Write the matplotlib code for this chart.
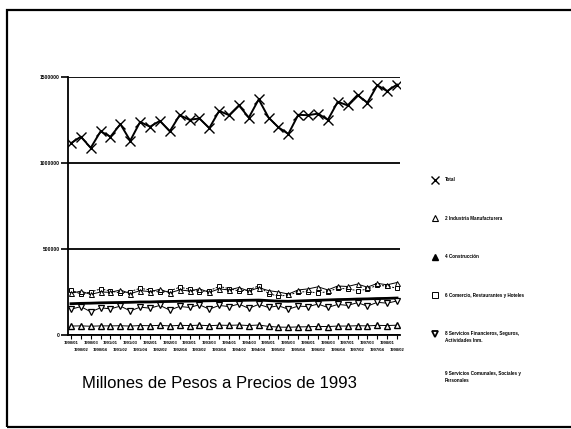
import matplotlib
matplotlib.use("Agg")
import matplotlib.pyplot as plt
from matplotlib.lines import Line2D
from matplotlib.patches import Rectangle

plt.rcParams['font.family'] = ['Liberation Sans', 'DejaVu Sans']

# Quarterly periods 1990/01 .. 1998/02
periods = [f"{y}/{q:02d}" for y in range(1990, 1999) for q in range(1, 5)][:34]

total = [1115000, 1153000, 1088000, 1184000, 1153000, 1226000, 1130000, 1239000,
         1211000, 1245000, 1184000, 1278000, 1251000, 1259000, 1203000, 1303000,
         1278000, 1335000, 1264000, 1370000, 1264000, 1207000, 1169000, 1280000,
         1278000, 1287000, 1251000, 1356000, 1335000, 1395000, 1351000, 1452000,
         1418000, 1456000]
manufactura = [242000, 255000, 236000, 250000, 248000, 262000, 240000, 258000,
               252000, 266000, 245000, 262000, 256000, 268000, 248000, 268000,
               262000, 276000, 255000, 275000, 258000, 250000, 238000, 262000,
               268000, 280000, 262000, 285000, 282000, 296000, 278000, 300000,
               292000, 305000]
comercio = [262000, 238000, 250000, 268000, 256000, 244000, 252000, 272000,
            262000, 248000, 256000, 278000, 266000, 252000, 258000, 282000,
            270000, 256000, 262000, 286000, 240000, 226000, 232000, 250000,
            252000, 244000, 252000, 272000, 268000, 258000, 266000, 290000,
            284000, 272000]
financieros = [150000, 165000, 135000, 158000, 152000, 168000, 140000, 162000,
               156000, 172000, 145000, 166000, 160000, 176000, 150000, 172000,
               165000, 180000, 155000, 178000, 160000, 170000, 150000, 168000,
               165000, 180000, 160000, 178000, 172000, 188000, 168000, 190000,
               185000, 198000]
comunales = [182000, 184000, 185000, 187000, 188000, 189000, 190000, 192000,
             192000, 194000, 195000, 196000, 197000, 198000, 199000, 200000,
             200000, 201000, 202000, 203000, 200000, 197000, 196000, 198000,
             200000, 202000, 204000, 206000, 207000, 209000, 210000, 212000,
             213000, 215000]
construccion = [52000, 53000, 51000, 53000, 53000, 54000, 52000, 55000,
                54000, 56000, 53000, 56000, 55000, 57000, 54000, 57000,
                56000, 58000, 55000, 58000, 50000, 46000, 45000, 47000,
                48000, 50000, 49000, 52000, 52000, 54000, 53000, 56000,
                55000, 57000]

yticks = [0, 500000, 1000000, 1500000]
ytick_labels = ["0", "500000", "1000000", "1500000"]

legend_labels = ["Total", "2 Industria Manufacturera", "4 Construcción",
                 "6 Comercio, Restaurantes y Hoteles",
                 "8 Servicios Financieros, Seguros,\nActividades Inm.",
                 "9 Servicios Comunales, Sociales y\nPersonales"]

W, H = 571, 429
fig = plt.figure(figsize=(W / 100, H / 100), dpi=100)
fig.patch.set_facecolor("white")

ax = fig.add_axes([68 / W, 1 - 335 / H, (400 - 68) / W, (335 - 77) / H])
x = list(range(len(periods)))

ax.plot(x, comunales, color="black", lw=2.0, zorder=3)
ax.plot(x, comercio, color="black", lw=0.7, ls=(0, (2, 1.5)), marker="s", ms=3.2,
        mfc="white", mec="black", mew=0.7, zorder=3)
ax.plot(x, manufactura, color="black", lw=0.7, marker="^", ms=3.6,
        mfc="white", mec="black", mew=0.7, zorder=3)
ax.plot(x, financieros, color="black", lw=0.7, marker="v", ms=3.8,
        mfc="white", mec="black", mew=0.9, zorder=3)
ax.plot(x, construccion, color="black", lw=0.7, marker="^", ms=4.2,
        mfc="white", mec="black", mew=1.0, zorder=3)
ax.plot(x, total, color="black", lw=1.4, marker="x", ms=6.5, mew=1.0, zorder=4)

ax.set_xlim(-0.3, len(periods) - 0.7)
ax.set_ylim(0, 1500000)
ax.set_yticks(yticks)
ax.set_yticklabels(ytick_labels, fontsize=3.6, fontweight="bold")
ax.yaxis.grid(True, color="black", lw=1.3)
ax.set_axisbelow(True)
for s in ["top", "right"]:
    ax.spines[s].set_visible(False)
ax.spines["left"].set_linewidth(1.3)
ax.spines["bottom"].set_linewidth(1.3)
ax.tick_params(axis="y", direction="out", length=5, width=1.2, pad=1)

# Staggered category labels: even ones on row 1, odd ones on row 2
even = x[0::2]
odd = x[1::2]
ax.set_xticks(even)
ax.set_xticklabels([periods[i] for i in even], fontsize=3.0, fontweight="bold")
ax.set_xticks(odd, minor=True)
ax.set_xticklabels([periods[i] for i in odd], minor=True, fontsize=3.0,
                   fontweight="bold")
ax.tick_params(axis="x", which="major", direction="out", length=3, width=0.8, pad=1)
ax.tick_params(axis="x", which="minor", direction="out", length=3, width=0.8, pad=6.5)

# Title-like caption
fig.text(219 / W, 1 - 383 / H, "Millones de Pesos a Precios de 1993",
         ha="center", va="center", fontsize=12)

# Legend (manual)
leg_y = [180, 218, 257, 295, 334, 374]
leg_markers = [dict(marker="x", ms=5.5, mew=1.0, mfc="black"),
               dict(marker="^", ms=4.5, mfc="white", mew=0.8),
               dict(marker="^", ms=5, mfc="black", mew=1.0),
               dict(marker="s", ms=4, mfc="white", mew=0.7),
               dict(marker="v", ms=5, mfc="white", mew=1.3),
               None]
for yy, lab, mk in zip(leg_y, legend_labels, leg_markers):
    if mk is not None:
        fig.add_artist(Line2D([435 / W], [1 - yy / H], transform=fig.transFigure,
                              color="black", mec="black", ls="none", **mk))
    fig.text(445 / W, 1 - (yy - 2.5) / H, lab, ha="left", va="top",
             fontsize=3.3, fontweight="bold", linespacing=1.5)

# Outer frame
fig.add_artist(Rectangle((7 / W, 1 - 427 / H), (W + 10) / W, (427 - 10) / H,
                         transform=fig.transFigure, fill=False, lw=1.6,
                         edgecolor="black", clip_on=False))

fig.savefig("out.png", dpi=100)
